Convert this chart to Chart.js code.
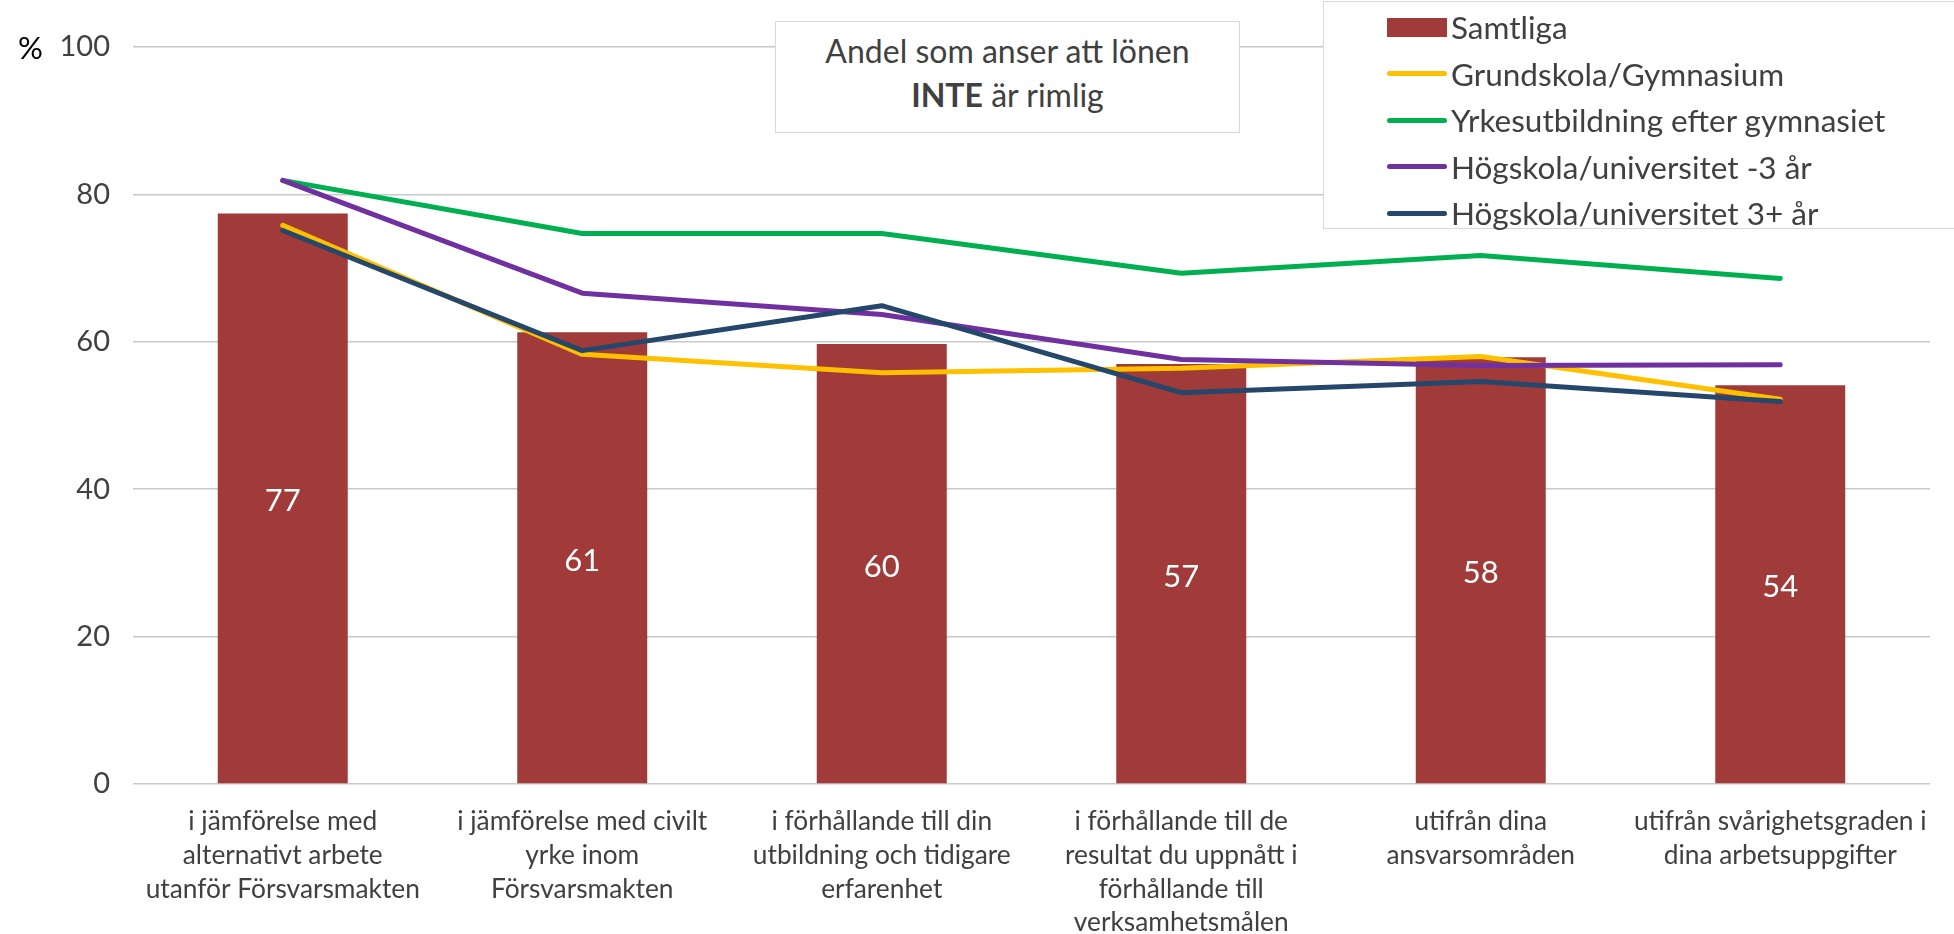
<!DOCTYPE html>
<html>
<head>
<meta charset="utf-8">
<script src="https://cdn.jsdelivr.net/npm/chart.js@4/dist/chart.umd.min.js"></script>
<style>
  html, body { margin: 0; padding: 0; background: #fff; }
  #wrap { position: relative; width: 1954px; height: 934px; overflow: hidden; font-family: Lato, "Open Sans", sans-serif; }
  #c { position: absolute; left: 0; top: 0; }
  #titlebox { position: absolute; left: 775px; top: 21px; width: 463px; height: 103px; border: 1.5px solid #d9d9d9; background: #fff;
    text-align: center; color: #404040; font-size: 32px; line-height: 44px; padding-top: 7px; box-sizing: content-box; }
  #legend { position: absolute; left: 1323px; top: 1px; width: 640px; height: 226px; border: 1.5px solid #d9d9d9; background: #fff; }
  .li { position: absolute; left: 63px; height: 46px; display: flex; align-items: center; color: #404040; font-size: 31.5px; white-space: nowrap; }
  .mk { width: 60px; margin-right: 4px; }
  #pct { position: absolute; left: 18px; top: 28px; font-size: 31px; color: #000; }
</style>
</head>
<body>
<div id="wrap">
  <canvas id="c" width="1954" height="934"></canvas>
  <div id="pct">%</div>
  <div id="titlebox"></div>
  <div id="legend"></div>
</div>
<script>
const categories = [
  ["i jämförelse med", "alternativt arbete", "utanför Försvarsmakten"],
  ["i jämförelse med civilt", "yrke inom", "Försvarsmakten"],
  ["i förhållande till din", "utbildning och tidigare", "erfarenhet"],
  ["i förhållande till de", "resultat du uppnått i", "förhållande till", "verksamhetsmålen"],
  ["utifrån dina", "ansvarsområden"],
  ["utifrån svårighetsgraden i", "dina arbetsuppgifter"]
];
const samtliga = [77.4, 61.3, 59.7, 57.0, 57.9, 54.1];
const grundskola = [75.8, 58.3, 55.8, 56.4, 58.0, 52.2];
const yrkesutb = [81.9, 74.7, 74.7, 69.3, 71.7, 68.6];
const hogskola3 = [81.9, 66.6, 63.7, 57.6, 56.8, 56.9];
const hogskola3plus = [75.1, 58.8, 64.9, 53.1, 54.6, 51.9];
const yTicks = [0, 20, 40, 60, 80, 100];
const seriesNames = ["Samtliga", "Grundskola/Gymnasium", "Yrkesutbildning efter gymnasiet", "Högskola/universitet -3 år", "Högskola/universitet 3+ år"];
const seriesColors = ["#A03B3A", "#FFC000", "#00B050", "#7030A0", "#24476B"];
const titleLines = ["Andel som anser att lönen", "<b>INTE</b> är rimlig"];

document.getElementById('titlebox').innerHTML = titleLines.join('<br>');

const lg = document.getElementById('legend');
seriesNames.forEach((n, i) => {
  const d = document.createElement('div');
  d.className = 'li';
  d.style.top = (2 + i * 46.5) + 'px';
  const m = document.createElement('div');
  m.className = 'mk';
  m.style.background = seriesColors[i];
  m.style.height = i === 0 ? '19px' : '5px';
  m.style.borderRadius = i === 0 ? '0' : '2.5px';
  d.appendChild(m);
  const t = document.createElement('span');
  t.textContent = n;
  d.appendChild(t);
  lg.appendChild(d);
});

const barLabels = {
  id: 'barLabels',
  afterDatasetsDraw(chart) {
    const ctx = chart.ctx;
    const meta = chart.getDatasetMeta(0);
    ctx.save();
    ctx.fillStyle = '#ffffff';
    ctx.font = '31px Lato, "Open Sans", sans-serif';
    ctx.textAlign = 'center';
    ctx.textBaseline = 'middle';
    meta.data.forEach((el, i) => {
      const v = chart.data.datasets[0].data[i];
      ctx.fillText(String(Math.round(v)), el.x, (el.y + el.base) / 2 + 3);
    });
    ctx.restore();
  }
};

function lineDs(label, data, color, order) {
  return {
    type: 'line', label, data, borderColor: color, backgroundColor: color,
    borderWidth: 5, pointRadius: 0, tension: 0, fill: false, order,
    borderCapStyle: 'round', borderJoinStyle: 'round'
  };
}

new Chart(document.getElementById('c'), {
  type: 'bar',
  data: {
    labels: categories,
    datasets: [
      { type: 'bar', label: seriesNames[0], data: samtliga, backgroundColor: seriesColors[0],
        categoryPercentage: 1, barPercentage: 0.434, order: 10 },
      lineDs(seriesNames[1], grundskola, seriesColors[1], 4),
      lineDs(seriesNames[2], yrkesutb, seriesColors[2], 3),
      lineDs(seriesNames[3], hogskola3, seriesColors[3], 2),
      lineDs(seriesNames[4], hogskola3plus, seriesColors[4], 1)
    ]
  },
  options: {
    responsive: false,
    animation: false,
    layout: { padding: { left: 0, right: 24, top: 47, bottom: 0 } },
    plugins: { legend: { display: false }, tooltip: { enabled: false } },
    scales: {
      x: {
        grid: { display: false, drawTicks: false },
        border: { display: false },
        ticks: { color: '#404040', font: { family: 'Lato', size: 26.3, lineHeight: 1.28 }, padding: 21, maxRotation: 0, autoSkip: false },
        afterFit(a) { a.height = 150; }
      },
      y: {
        min: 0, max: 100,
        afterBuildTicks(a) { a.ticks = yTicks.map(v => ({ value: v })); },
        grid: { color: '#C9C9C9', lineWidth: 1.5, drawTicks: false },
        border: { display: false },
        ticks: { color: '#404040', font: { family: 'Lato', size: 29 }, padding: 23 },
        afterFit(a) { a.width = 133; }
      }
    }
  },
  plugins: [barLabels]
});
</script>
</body>
</html>
